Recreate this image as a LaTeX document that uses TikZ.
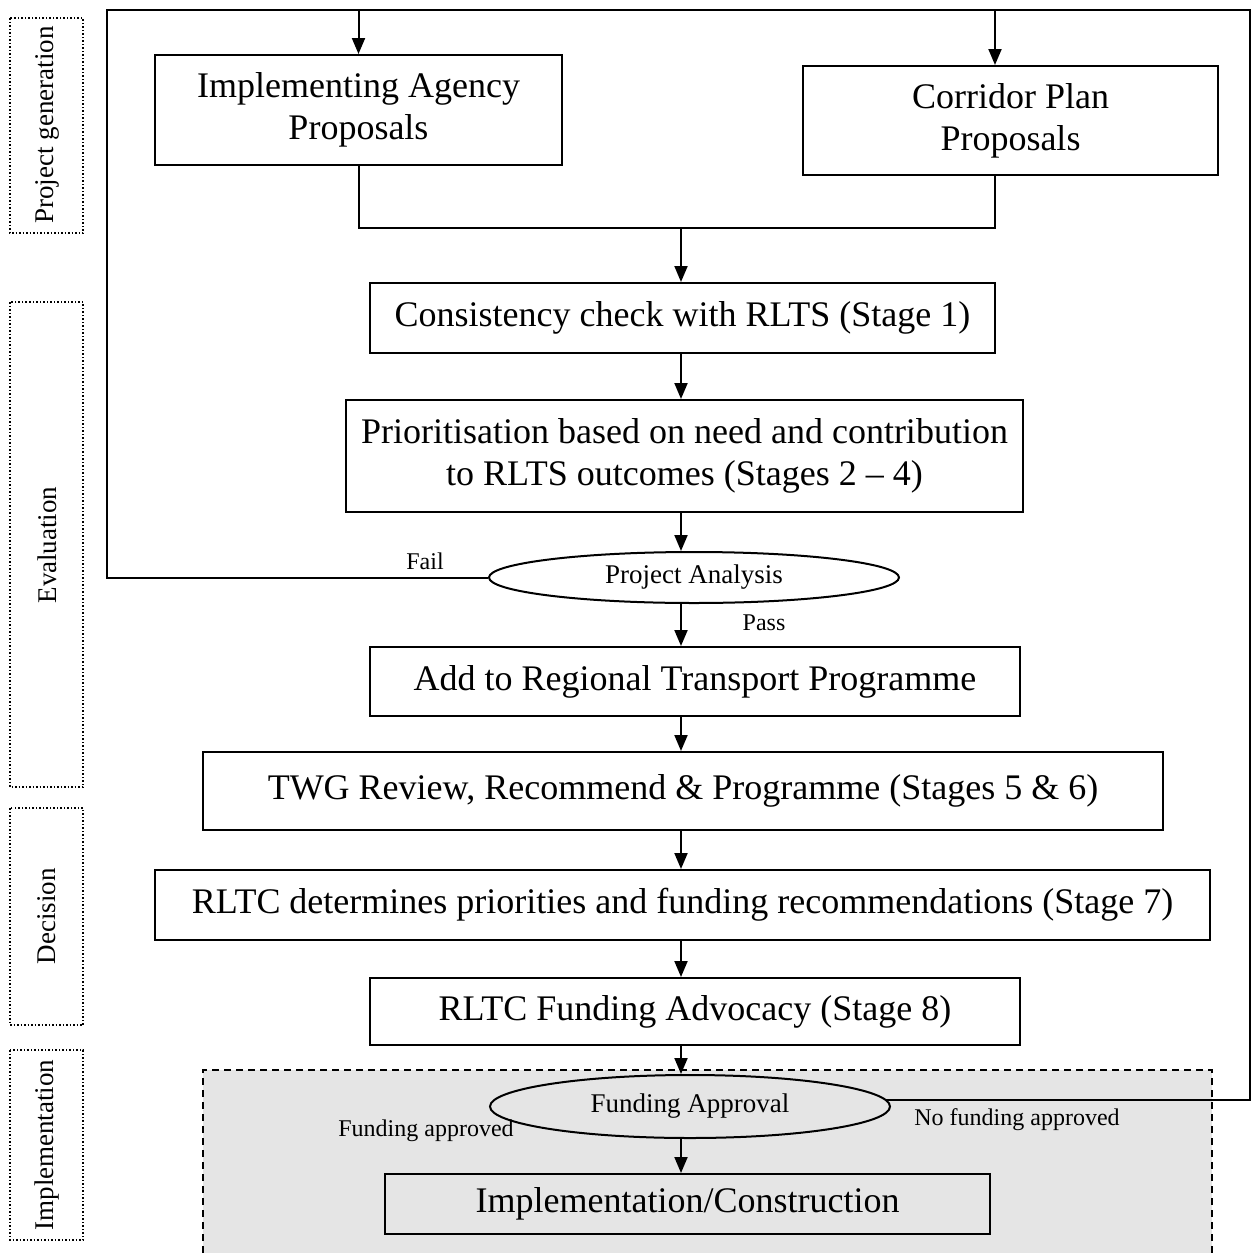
\documentclass[tikz,border=0pt]{standalone}
\usepackage{fontspec}
\setmainfont{Liberation Serif}
\usetikzlibrary{arrows.meta,shapes.geometric}
\begin{document}
\begin{tikzpicture}[x=1pt,y=-1pt,
  line/.style={line width=2pt},
  arr/.style={line width=2pt,-{Triangle[length=16pt,width=13pt]}},
  box/.style={draw,line width=2pt,rectangle,inner sep=0pt,align=center,font=\fontsize{36}{42}\selectfont},
  ell/.style={draw,line width=2pt,ellipse,inner sep=0pt,font=\fontsize{27}{31}\selectfont},
  lbl/.style={font=\fontsize{24}{28}\selectfont,inner sep=0pt},
  side/.style={font=\fontsize{27}{31}\selectfont,rotate=90,inner sep=0pt},
  sidebox/.style={dotted,line width=1.5pt},
  shade/.style={fill=black!10}
]
\useasboundingbox (0,0) rectangle (1253,1253);
\fill[white] (0,0) rectangle (1253,1253);

% side labels
\draw[sidebox] (10,18) rectangle (83,233);
\node[side] (sg) at (47,125) {Project generation};
\draw[sidebox] (10,302) rectangle (83,787);
\node[side] (se) at (47,545) {Evaluation};
\draw[sidebox] (10,808) rectangle (83,1025);
\node[side] (sd) at (47,916) {Decision};
\draw[sidebox] (10,1050) rectangle (83,1240);
\node[side] (si) at (47,1145) {Implementation};

% shaded implementation region
\fill[shade] (203,1070) rectangle (1212,1253);
\draw[line width=1.5pt,dash pattern=on 7pt off 5pt] (203,1253) -- (203,1070) -- (1212,1070) -- (1212,1253);

% nodes
\node[box,minimum width=407,minimum height=110] (ia) at (358.5,110) {Implementing Agency\\Proposals};
\node[box,minimum width=415,minimum height=109] (cp) at (1010.5,120.5) {Corridor Plan\\Proposals};
\node[box,minimum width=625,minimum height=70] (cc) at (682.5,318) {Consistency check with RLTS (Stage 1)};
\node[box,minimum width=677,minimum height=112] (pr) at (684.5,456) {Prioritisation based on need and contribution\\to RLTS outcomes (Stages 2 -- 4)};
\node[ell,minimum width=410,minimum height=51] (pa) at (694,577.5) {Project Analysis};
\node[box,minimum width=650,minimum height=69] (add) at (695,681.5) {Add to Regional Transport Programme};
\node[box,minimum width=960,minimum height=78] (twg) at (683,791) {TWG Review, Recommend \& Programme (Stages 5 \& 6)};
\node[box,minimum width=1055,minimum height=70] (rltc) at (682.5,905) {RLTC determines priorities and funding recommendations (Stage 7)};
\node[box,minimum width=650,minimum height=67] (adv) at (695,1011.5) {RLTC Funding Advocacy (Stage 8)};
\node[ell,shade,minimum width=400,minimum height=63] (fa) at (690,1106.5) {Funding Approval};
\node[box,shade,minimum width=605,minimum height=60] (impl) at (687.5,1204) {Implementation/Construction};

% labels
\node[lbl] (lfail) at (425,561) {Fail};
\node[lbl] (lpass) at (764,623) {Pass};
\node[lbl] (lno) at (1017,1120) {No funding approved};
\node[lbl] (lyes) at (426,1131) {Funding approved};

% helper coordinates
\coordinate (ax) at (681,0);
\coordinate (tl) at (107,10);
\coordinate (tr) at (1250,10);
\coordinate (cpx) at (995,10);
\coordinate (mj) at (681,228);

% loop
\draw[line] (pa.west) -- (pa.west -| tl) -- (tl) -- (tr) -- (tr |- fa.2) -- (fa.2);
\draw[arr] (tl -| ia.north) -- (ia.north);
\draw[arr] (cpx) -- (cpx |- cp.north);

% merge
\draw[line] (ia.south) -- (ia.south |- mj) -- (cpx |- mj) -- (cpx |- cp.south);
\draw[arr] (mj) -- (mj |- cc.north);

% main chain
\draw[arr] (cc.south -| ax) -- (pr.north -| ax);
\draw[arr] (pr.south -| ax) -- (pa.north -| ax);
\draw[arr] (pa.south -| ax) -- (add.north -| ax);
\draw[arr] (add.south -| ax) -- (twg.north -| ax);
\draw[arr] (twg.south -| ax) -- (rltc.north -| ax);
\draw[arr] (rltc.south -| ax) -- (adv.north -| ax);
\draw[arr] (adv.south -| ax) -- (fa.north -| ax);
\draw[arr] (fa.south -| ax) -- (impl.north -| ax);
\end{tikzpicture}
\end{document}
